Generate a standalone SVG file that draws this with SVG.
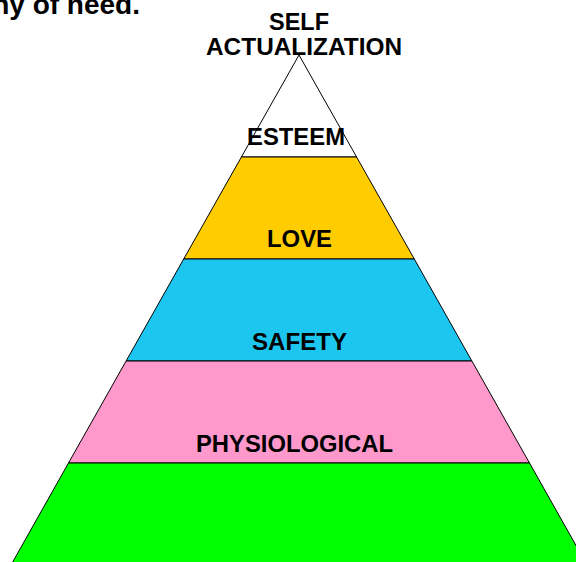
<svg xmlns="http://www.w3.org/2000/svg" width="576" height="562" viewBox="0 0 576 562">
<style>
.tier{stroke:#000;stroke-width:1;stroke-linejoin:miter}
.lbl{font-family:"Liberation Sans",Arial,sans-serif;font-weight:bold;font-size:23px;fill:#000;text-anchor:middle}
.title{font-family:"Liberation Sans",Arial,sans-serif;font-weight:bold;font-size:28px;fill:#000;text-anchor:end}
</style>
<rect x="0" y="0" width="576" height="562" fill="#fff"/>
<text class="title" x="140" y="13.5">hy of need.</text>
<g id="tier-self-actualization">
<polygon class="tier" fill="#fff" points="299,55 356.6,157 241.4,157"/>
</g>
<g id="tier-esteem">
<polygon class="tier" fill="#FFCC00" points="241.4,157 356.6,157 414.3,259 183.7,259"/>
</g>
<g id="tier-love">
<polygon class="tier" fill="#1CC6EE" points="183.7,259 414.3,259 471.9,361 126.1,361"/>
</g>
<g id="tier-safety">
<polygon class="tier" fill="#FF99CC" points="126.1,361 471.9,361 529.5,463 68.5,463"/>
</g>
<g id="tier-physiological">
<polygon class="tier" fill="#00FF00" points="68.5,463 529.5,463 587,565 11,565"/>
</g>
<g id="labels">
<text class="lbl" x="299" y="30" textLength="60" lengthAdjust="spacingAndGlyphs">SELF</text>
<text class="lbl" x="304" y="55" textLength="196" lengthAdjust="spacingAndGlyphs">ACTUALIZATION</text>
<text class="lbl" x="296" y="145" textLength="98" lengthAdjust="spacingAndGlyphs">ESTEEM</text>
<text class="lbl" x="299.5" y="247" textLength="65" lengthAdjust="spacingAndGlyphs">LOVE</text>
<text class="lbl" x="299.5" y="350" textLength="95" lengthAdjust="spacingAndGlyphs">SAFETY</text>
<text class="lbl" x="294.5" y="452" textLength="197" lengthAdjust="spacingAndGlyphs">PHYSIOLOGICAL</text>
</g>
</svg>
